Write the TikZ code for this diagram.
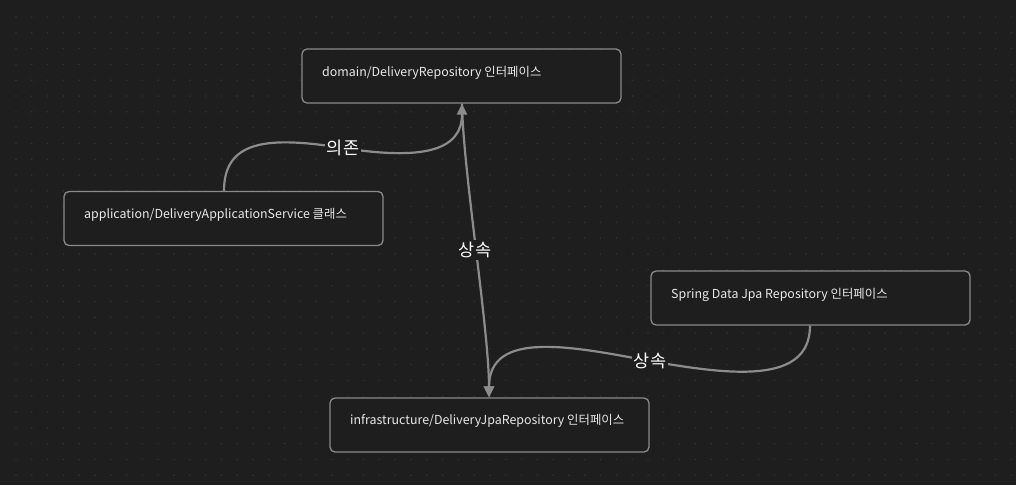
\documentclass[tikz,border=0pt]{standalone}
\usepackage{fontspec}
\setmainfont{Noto Sans CJK KR}
\usetikzlibrary{arrows.meta}
\definecolor{bg}{HTML}{1E1E1E}
\definecolor{dotc}{HTML}{363636}
\definecolor{boxline}{HTML}{8A8A8A}
\definecolor{edgec}{HTML}{8C8C8C}
\definecolor{txt}{HTML}{E8E8E8}
\tikzset{
  box/.style={draw=boxline, line width=1.3pt, rounded corners=5pt, fill=bg, minimum width=319pt, minimum height=54pt, inner sep=0pt},
  boxtext/.style={anchor=west, text=txt, font=\fontsize{12.4}{14}\selectfont, inner sep=0pt},
  edge/.style={draw=edgec, line width=2.2pt},
  arr/.style={-{Triangle[length=11pt,width=10pt]}},
  elabel/.style={fill=bg, text=white, font=\fontsize{17.5}{19}\selectfont, inner sep=2pt}
}
\begin{document}
\begin{tikzpicture}[x=1pt,y=-1pt]
\fill[bg] (0,0) rectangle (1016,485);
\useasboundingbox (0,0) rectangle (1016,485);
\foreach \i in {0,...,63} {
  \foreach \j in {0,...,30} {
    \fill[dotc] (16+15.8*\i,17+15.8*\j) circle (0.8pt);
  }
}
% nodes
\node[box] (dom) at (461.5,76) {};
\node[boxtext] (domt) at (322,73) {domain/DeliveryRepository 인터페이스};
\node[box] (app) at (223.5,218.5) {};
\node[boxtext] (appt) at (84,215) {application/DeliveryApplicationService 클래스};
\node[box] (spr) at (810.5,298) {};
\node[boxtext] (sprt) at (671,295) {Spring Data Jpa Repository 인터페이스};
\node[box] (inf) at (489.5,425) {};
\node[boxtext] (inft) at (350,421) {infrastructure/DeliveryJpaRepository 인터페이스};
% anchor coordinates
\coordinate (domB) at ([xshift=0.5pt]dom.south);
\coordinate (appT) at ([xshift=0.5pt]app.north);
\coordinate (sprB) at ([xshift=-0.5pt]spr.south);
\coordinate (infT) at ([xshift=-0.5pt]inf.north);
% edges
\draw[edge,arr] (appT) .. controls (224,140) and (268,136) .. (343,148)
   .. controls (420,160) and (462,152) .. (domB);
\node[elabel] (l1) at (343,148) {의존};
\draw[edge,arr] (domB) .. controls (463,170) and (489,330) .. (infT);
\node[elabel] (l2) at (475,250) {상속};
\draw[edge,arr] (sprB) .. controls (810,385) and (730,375) .. (650,361)
   .. controls (570,346) and (489,330) .. (infT);
\node[elabel] (l3) at (650,361) {상속};
\end{tikzpicture}
\end{document}
